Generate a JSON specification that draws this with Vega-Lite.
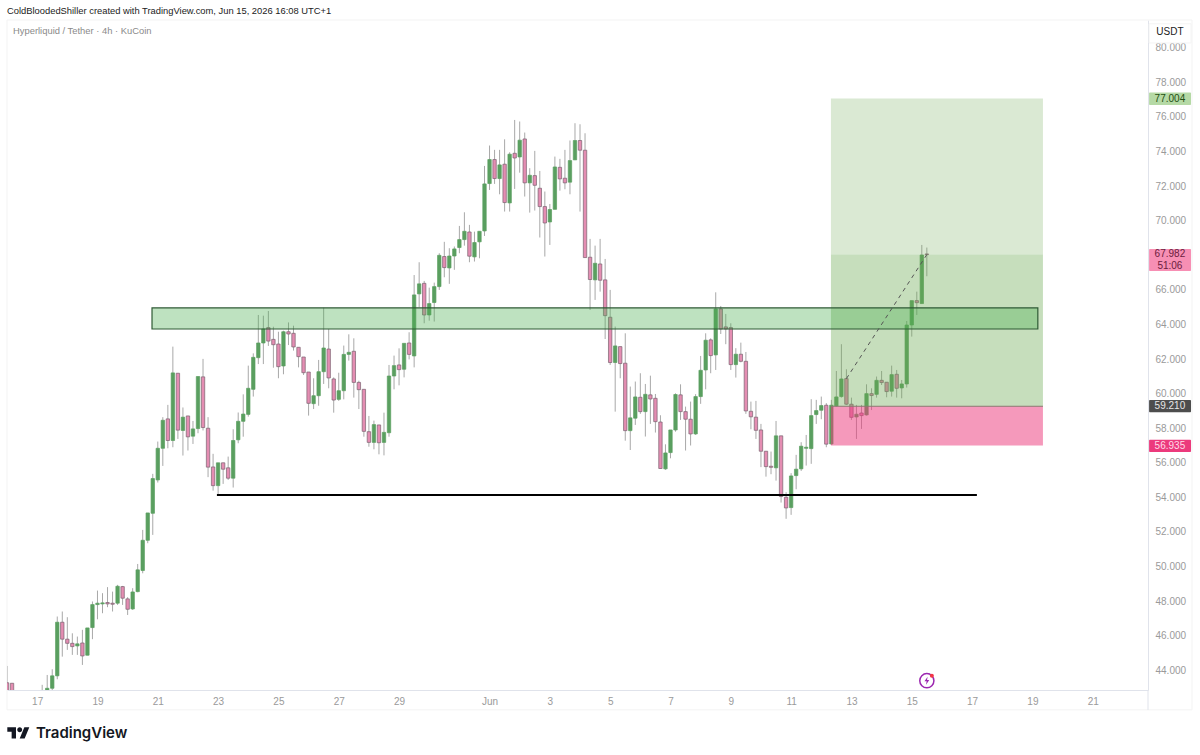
{
  "$schema": "https://vega.github.io/schema/vega-lite/v6.json",
  "width": 1141,
  "height": 670,
  "autosize": "none",
  "padding": {"left": 7, "top": 20, "right": 52, "bottom": 65},
  "background": "#ffffff",
  "config": {"view": {"stroke": null}, "font": "Liberation Sans"},
  "datasets": {
    "candles": [
      {"t":"2026-05-16T00:00Z","o":43.22,"h":44.19,"l":42.4,"c":42.6},
      {"t":"2026-05-16T04:00Z","o":43.19,"h":43.19,"l":42.4,"c":42.6},
      {"t":"2026-05-17T04:00Z","o":42.6,"h":43.1,"l":42.5,"c":42.7},
      {"t":"2026-05-17T08:00Z","o":42.6,"h":43.67,"l":42.4,"c":42.9},
      {"t":"2026-05-17T12:00Z","o":42.9,"h":44.0,"l":42.8,"c":43.62},
      {"t":"2026-05-17T16:00Z","o":43.62,"h":47.05,"l":43.42,"c":46.72},
      {"t":"2026-05-17T20:00Z","o":46.72,"h":47.34,"l":44.73,"c":45.74},
      {"t":"2026-05-18T00:00Z","o":45.74,"h":47.01,"l":45.12,"c":45.5},
      {"t":"2026-05-18T04:00Z","o":45.5,"h":46.08,"l":44.83,"c":45.31},
      {"t":"2026-05-18T08:00Z","o":45.35,"h":45.89,"l":44.83,"c":45.47},
      {"t":"2026-05-18T12:00Z","o":45.52,"h":46.28,"l":44.25,"c":44.77},
      {"t":"2026-05-18T16:00Z","o":44.81,"h":46.39,"l":44.81,"c":46.39},
      {"t":"2026-05-18T20:00Z","o":46.41,"h":47.92,"l":45.74,"c":47.74},
      {"t":"2026-05-19T00:00Z","o":47.74,"h":48.55,"l":46.89,"c":47.82},
      {"t":"2026-05-19T04:00Z","o":47.78,"h":48.4,"l":47.24,"c":47.84},
      {"t":"2026-05-19T08:00Z","o":47.86,"h":48.75,"l":47.59,"c":47.78},
      {"t":"2026-05-19T12:00Z","o":47.82,"h":48.49,"l":47.34,"c":47.76},
      {"t":"2026-05-19T16:00Z","o":47.82,"h":48.88,"l":47.72,"c":48.8},
      {"t":"2026-05-19T20:00Z","o":48.78,"h":48.82,"l":47.72,"c":48.11},
      {"t":"2026-05-20T00:00Z","o":48.07,"h":48.17,"l":47.14,"c":47.47},
      {"t":"2026-05-20T04:00Z","o":47.49,"h":48.69,"l":47.43,"c":48.47},
      {"t":"2026-05-20T08:00Z","o":48.49,"h":50.09,"l":48.45,"c":49.75},
      {"t":"2026-05-20T12:00Z","o":49.71,"h":52.06,"l":49.55,"c":51.46},
      {"t":"2026-05-20T16:00Z","o":51.46,"h":53.04,"l":51.29,"c":53.04},
      {"t":"2026-05-20T20:00Z","o":53.02,"h":55.3,"l":51.77,"c":55.03},
      {"t":"2026-05-21T00:00Z","o":54.95,"h":57.17,"l":54.8,"c":56.78},
      {"t":"2026-05-21T04:00Z","o":56.78,"h":58.58,"l":55.76,"c":58.4},
      {"t":"2026-05-21T08:00Z","o":58.48,"h":59.29,"l":56.78,"c":57.23},
      {"t":"2026-05-21T12:00Z","o":57.23,"h":62.66,"l":56.84,"c":61.14},
      {"t":"2026-05-21T16:00Z","o":61.12,"h":61.12,"l":57.32,"c":57.83},
      {"t":"2026-05-21T20:00Z","o":57.81,"h":59.14,"l":56.36,"c":58.58},
      {"t":"2026-05-22T00:00Z","o":58.65,"h":58.65,"l":56.65,"c":57.44},
      {"t":"2026-05-22T04:00Z","o":57.48,"h":58.36,"l":57.03,"c":57.9},
      {"t":"2026-05-22T08:00Z","o":57.92,"h":60.93,"l":57.65,"c":60.93},
      {"t":"2026-05-22T12:00Z","o":60.91,"h":61.95,"l":57.81,"c":57.98},
      {"t":"2026-05-22T16:00Z","o":57.94,"h":58.58,"l":55.11,"c":55.69},
      {"t":"2026-05-22T20:00Z","o":55.7,"h":56.46,"l":54.33,"c":54.62},
      {"t":"2026-05-23T00:00Z","o":54.62,"h":55.94,"l":54.08,"c":55.94},
      {"t":"2026-05-23T04:00Z","o":55.94,"h":55.94,"l":54.72,"c":55.57},
      {"t":"2026-05-23T08:00Z","o":55.65,"h":56.3,"l":54.95,"c":55.05},
      {"t":"2026-05-23T12:00Z","o":55.05,"h":57.88,"l":54.51,"c":57.23},
      {"t":"2026-05-23T16:00Z","o":57.27,"h":58.85,"l":57.07,"c":58.34},
      {"t":"2026-05-23T20:00Z","o":58.34,"h":59.9,"l":57.45,"c":58.76},
      {"t":"2026-05-24T00:00Z","o":58.74,"h":61.56,"l":58.61,"c":60.25},
      {"t":"2026-05-24T04:00Z","o":60.19,"h":62.27,"l":59.77,"c":62.04},
      {"t":"2026-05-24T08:00Z","o":62.02,"h":64.49,"l":61.65,"c":62.87},
      {"t":"2026-05-24T12:00Z","o":62.87,"h":64.45,"l":61.65,"c":63.68},
      {"t":"2026-05-24T16:00Z","o":63.76,"h":64.72,"l":62.7,"c":62.98},
      {"t":"2026-05-24T20:00Z","o":63.08,"h":63.81,"l":61.44,"c":62.77},
      {"t":"2026-05-25T00:00Z","o":62.81,"h":63.52,"l":60.83,"c":61.5},
      {"t":"2026-05-25T04:00Z","o":61.54,"h":63.58,"l":61.06,"c":63.52},
      {"t":"2026-05-25T08:00Z","o":63.52,"h":64.06,"l":62.75,"c":63.39},
      {"t":"2026-05-25T12:00Z","o":63.43,"h":63.87,"l":62.43,"c":62.64},
      {"t":"2026-05-25T16:00Z","o":62.62,"h":62.62,"l":61.46,"c":62.08},
      {"t":"2026-05-25T20:00Z","o":62.06,"h":62.06,"l":61.02,"c":61.15},
      {"t":"2026-05-26T00:00Z","o":61.19,"h":61.19,"l":58.67,"c":59.38},
      {"t":"2026-05-26T04:00Z","o":59.36,"h":60.83,"l":59.05,"c":59.82},
      {"t":"2026-05-26T08:00Z","o":59.82,"h":61.89,"l":59.24,"c":61.21},
      {"t":"2026-05-26T12:00Z","o":61.21,"h":64.91,"l":60.5,"c":62.58},
      {"t":"2026-05-26T16:00Z","o":62.52,"h":63.68,"l":60.25,"c":60.85},
      {"t":"2026-05-26T20:00Z","o":60.79,"h":60.88,"l":58.84,"c":59.57},
      {"t":"2026-05-27T00:00Z","o":59.61,"h":61.15,"l":59.52,"c":60.11},
      {"t":"2026-05-27T04:00Z","o":60.11,"h":62.72,"l":59.61,"c":62.21},
      {"t":"2026-05-27T08:00Z","o":62.21,"h":63.37,"l":61.85,"c":62.33},
      {"t":"2026-05-27T12:00Z","o":62.39,"h":63.14,"l":59.71,"c":60.59},
      {"t":"2026-05-27T16:00Z","o":60.59,"h":60.69,"l":59.05,"c":60.17},
      {"t":"2026-05-27T20:00Z","o":60.19,"h":60.19,"l":57.45,"c":57.76},
      {"t":"2026-05-28T00:00Z","o":57.74,"h":58.65,"l":56.87,"c":57.12},
      {"t":"2026-05-28T04:00Z","o":57.12,"h":58.38,"l":56.72,"c":58.15},
      {"t":"2026-05-28T08:00Z","o":58.13,"h":58.13,"l":56.43,"c":57.1},
      {"t":"2026-05-28T12:00Z","o":57.12,"h":58.84,"l":56.37,"c":57.7},
      {"t":"2026-05-28T16:00Z","o":57.68,"h":61.6,"l":57.45,"c":60.96},
      {"t":"2026-05-28T20:00Z","o":60.96,"h":62.14,"l":60.19,"c":61.56},
      {"t":"2026-05-29T00:00Z","o":61.6,"h":62.56,"l":60.42,"c":61.33},
      {"t":"2026-05-29T04:00Z","o":61.35,"h":62.85,"l":60.88,"c":62.85},
      {"t":"2026-05-29T08:00Z","o":62.87,"h":63.49,"l":61.92,"c":62.21},
      {"t":"2026-05-29T12:00Z","o":62.12,"h":66.8,"l":61.46,"c":65.65},
      {"t":"2026-05-29T16:00Z","o":65.71,"h":67.54,"l":64.94,"c":66.29},
      {"t":"2026-05-29T20:00Z","o":66.32,"h":66.46,"l":64.01,"c":64.49},
      {"t":"2026-05-30T00:00Z","o":64.49,"h":66.07,"l":64.16,"c":65.15},
      {"t":"2026-05-30T04:00Z","o":65.21,"h":66.36,"l":64.11,"c":66.13},
      {"t":"2026-05-30T08:00Z","o":66.13,"h":68.06,"l":65.94,"c":67.94},
      {"t":"2026-05-30T12:00Z","o":67.87,"h":68.72,"l":66.67,"c":67.23},
      {"t":"2026-05-30T16:00Z","o":67.21,"h":68.35,"l":66.29,"c":67.9},
      {"t":"2026-05-30T20:00Z","o":67.9,"h":68.45,"l":67.1,"c":68.31},
      {"t":"2026-05-31T00:00Z","o":68.39,"h":69.64,"l":68.06,"c":68.85},
      {"t":"2026-05-31T04:00Z","o":68.85,"h":70.43,"l":68.5,"c":69.33},
      {"t":"2026-05-31T08:00Z","o":69.29,"h":69.7,"l":67.54,"c":67.89},
      {"t":"2026-05-31T12:00Z","o":67.85,"h":69.31,"l":67.58,"c":68.68},
      {"t":"2026-05-31T16:00Z","o":68.72,"h":69.33,"l":67.77,"c":69.33},
      {"t":"2026-05-31T20:00Z","o":69.35,"h":73.11,"l":69.06,"c":72.07},
      {"t":"2026-06-01T00:00Z","o":72.09,"h":74.29,"l":71.72,"c":73.48},
      {"t":"2026-06-01T04:00Z","o":73.48,"h":74.04,"l":72.07,"c":72.38},
      {"t":"2026-06-01T08:00Z","o":72.38,"h":74.04,"l":71.47,"c":73.17},
      {"t":"2026-06-01T12:00Z","o":73.21,"h":74.65,"l":70.47,"c":70.99},
      {"t":"2026-06-01T16:00Z","o":70.97,"h":73.9,"l":70.47,"c":73.79},
      {"t":"2026-06-01T20:00Z","o":73.84,"h":75.77,"l":71.78,"c":73.57},
      {"t":"2026-06-02T00:00Z","o":73.63,"h":75.68,"l":72.72,"c":74.6},
      {"t":"2026-06-02T04:00Z","o":74.67,"h":75.04,"l":71.34,"c":72.13},
      {"t":"2026-06-02T08:00Z","o":72.13,"h":72.98,"l":70.41,"c":72.57},
      {"t":"2026-06-02T12:00Z","o":72.55,"h":73.98,"l":70.53,"c":71.99},
      {"t":"2026-06-02T16:00Z","o":71.82,"h":72.82,"l":68.97,"c":70.76},
      {"t":"2026-06-02T20:00Z","o":70.76,"h":71.63,"l":67.87,"c":69.81},
      {"t":"2026-06-03T00:00Z","o":69.87,"h":70.91,"l":68.54,"c":70.59},
      {"t":"2026-06-03T04:00Z","o":70.6,"h":73.65,"l":70.6,"c":73.05},
      {"t":"2026-06-03T08:00Z","o":73.03,"h":73.52,"l":71.68,"c":72.36},
      {"t":"2026-06-03T12:00Z","o":72.4,"h":74.04,"l":71.76,"c":72.13},
      {"t":"2026-06-03T16:00Z","o":72.17,"h":74.58,"l":71.47,"c":73.42},
      {"t":"2026-06-03T20:00Z","o":73.46,"h":75.58,"l":73.46,"c":74.58},
      {"t":"2026-06-04T00:00Z","o":74.58,"h":75.52,"l":70.47,"c":74.02},
      {"t":"2026-06-04T04:00Z","o":74.02,"h":75.0,"l":67.81,"c":67.81},
      {"t":"2026-06-04T08:00Z","o":67.83,"h":68.89,"l":64.78,"c":66.54},
      {"t":"2026-06-04T12:00Z","o":66.52,"h":68.5,"l":65.36,"c":67.48},
      {"t":"2026-06-04T16:00Z","o":67.44,"h":68.89,"l":65.84,"c":66.5},
      {"t":"2026-06-04T20:00Z","o":66.52,"h":67.73,"l":63.1,"c":64.45},
      {"t":"2026-06-05T00:00Z","o":64.36,"h":65.94,"l":61.6,"c":61.74},
      {"t":"2026-06-05T04:00Z","o":61.74,"h":63.82,"l":58.9,"c":62.7},
      {"t":"2026-06-05T08:00Z","o":62.66,"h":62.66,"l":60.83,"c":61.68},
      {"t":"2026-06-05T12:00Z","o":61.7,"h":63.43,"l":57.22,"c":57.8},
      {"t":"2026-06-05T16:00Z","o":57.8,"h":60.35,"l":56.68,"c":58.54},
      {"t":"2026-06-05T20:00Z","o":58.52,"h":60.64,"l":58.13,"c":59.75},
      {"t":"2026-06-06T00:00Z","o":59.73,"h":61.12,"l":58.77,"c":58.9},
      {"t":"2026-06-06T04:00Z","o":58.9,"h":60.5,"l":57.46,"c":59.9},
      {"t":"2026-06-06T08:00Z","o":59.87,"h":60.98,"l":58.19,"c":59.63},
      {"t":"2026-06-06T12:00Z","o":59.67,"h":59.92,"l":57.69,"c":58.32},
      {"t":"2026-06-06T16:00Z","o":58.3,"h":58.69,"l":55.61,"c":55.61},
      {"t":"2026-06-06T20:00Z","o":55.59,"h":57.01,"l":55.53,"c":56.51},
      {"t":"2026-06-07T00:00Z","o":56.53,"h":57.84,"l":56.2,"c":57.84},
      {"t":"2026-06-07T04:00Z","o":57.84,"h":59.96,"l":57.74,"c":59.89},
      {"t":"2026-06-07T08:00Z","o":59.87,"h":60.48,"l":58.42,"c":58.9},
      {"t":"2026-06-07T12:00Z","o":58.9,"h":59.19,"l":56.65,"c":58.46},
      {"t":"2026-06-07T16:00Z","o":58.46,"h":59.48,"l":56.94,"c":57.61},
      {"t":"2026-06-07T20:00Z","o":57.61,"h":59.91,"l":57.55,"c":59.77},
      {"t":"2026-06-08T00:00Z","o":59.77,"h":62.12,"l":59.35,"c":61.29},
      {"t":"2026-06-08T04:00Z","o":61.31,"h":63.43,"l":60.19,"c":63.03},
      {"t":"2026-06-08T08:00Z","o":63.05,"h":63.14,"l":61.12,"c":62.14},
      {"t":"2026-06-08T12:00Z","o":62.18,"h":65.8,"l":61.31,"c":64.84},
      {"t":"2026-06-08T16:00Z","o":64.84,"h":65.01,"l":63.39,"c":63.68},
      {"t":"2026-06-08T20:00Z","o":63.8,"h":64.55,"l":62.8,"c":63.68},
      {"t":"2026-06-09T00:00Z","o":63.76,"h":64.01,"l":61.31,"c":61.62},
      {"t":"2026-06-09T04:00Z","o":61.62,"h":62.57,"l":60.87,"c":62.22},
      {"t":"2026-06-09T08:00Z","o":62.22,"h":62.89,"l":61.75,"c":61.81},
      {"t":"2026-06-09T12:00Z","o":61.81,"h":62.35,"l":58.77,"c":58.94},
      {"t":"2026-06-09T16:00Z","o":58.92,"h":59.48,"l":57.88,"c":58.6},
      {"t":"2026-06-09T20:00Z","o":58.58,"h":59.52,"l":57.32,"c":57.82},
      {"t":"2026-06-10T00:00Z","o":57.84,"h":58.19,"l":55.69,"c":56.61},
      {"t":"2026-06-10T04:00Z","o":56.61,"h":56.61,"l":55.14,"c":55.72},
      {"t":"2026-06-10T08:00Z","o":55.74,"h":56.59,"l":55.28,"c":55.68},
      {"t":"2026-06-10T12:00Z","o":55.65,"h":58.36,"l":54.91,"c":57.5},
      {"t":"2026-06-10T16:00Z","o":57.5,"h":57.5,"l":53.64,"c":53.99},
      {"t":"2026-06-10T20:00Z","o":53.95,"h":54.24,"l":52.7,"c":53.33},
      {"t":"2026-06-11T00:00Z","o":53.35,"h":55.34,"l":52.93,"c":55.18},
      {"t":"2026-06-11T04:00Z","o":55.2,"h":56.4,"l":54.41,"c":55.57},
      {"t":"2026-06-11T08:00Z","o":55.59,"h":57.13,"l":55.47,"c":56.9},
      {"t":"2026-06-11T12:00Z","o":56.78,"h":57.55,"l":55.78,"c":56.84},
      {"t":"2026-06-11T16:00Z","o":56.76,"h":59.62,"l":55.88,"c":58.67},
      {"t":"2026-06-11T20:00Z","o":58.73,"h":59.58,"l":58.19,"c":58.96},
      {"t":"2026-06-12T00:00Z","o":58.98,"h":59.77,"l":58.46,"c":59.25},
      {"t":"2026-06-12T04:00Z","o":59.27,"h":59.39,"l":56.84,"c":57.02},
      {"t":"2026-06-12T08:00Z","o":57.03,"h":59.58,"l":56.98,"c":59.27},
      {"t":"2026-06-12T12:00Z","o":59.23,"h":61.25,"l":59.19,"c":59.75},
      {"t":"2026-06-12T16:00Z","o":59.77,"h":62.8,"l":59.71,"c":60.79},
      {"t":"2026-06-12T20:00Z","o":60.81,"h":61.35,"l":59.29,"c":59.33},
      {"t":"2026-06-13T00:00Z","o":59.33,"h":59.71,"l":58.42,"c":58.57},
      {"t":"2026-06-13T04:00Z","o":58.59,"h":59.29,"l":57.32,"c":58.75},
      {"t":"2026-06-13T08:00Z","o":58.82,"h":59.29,"l":57.9,"c":58.67},
      {"t":"2026-06-13T12:00Z","o":58.71,"h":60.48,"l":58.67,"c":59.94},
      {"t":"2026-06-13T16:00Z","o":59.94,"h":60.25,"l":58.99,"c":59.83},
      {"t":"2026-06-13T20:00Z","o":59.9,"h":60.93,"l":59.71,"c":60.71},
      {"t":"2026-06-14T00:00Z","o":60.71,"h":61.25,"l":60.44,"c":60.58},
      {"t":"2026-06-14T04:00Z","o":60.6,"h":60.6,"l":59.73,"c":60.06},
      {"t":"2026-06-14T08:00Z","o":60.08,"h":61.56,"l":59.77,"c":61.04},
      {"t":"2026-06-14T12:00Z","o":61.06,"h":61.31,"l":59.71,"c":60.25},
      {"t":"2026-06-14T16:00Z","o":60.27,"h":60.73,"l":59.67,"c":60.5},
      {"t":"2026-06-14T20:00Z","o":60.5,"h":64.14,"l":60.29,"c":63.91},
      {"t":"2026-06-15T00:00Z","o":63.91,"h":65.32,"l":63.24,"c":65.32},
      {"t":"2026-06-15T04:00Z","o":65.32,"h":65.84,"l":64.49,"c":65.2},
      {"t":"2026-06-15T08:00Z","o":65.15,"h":68.54,"l":65.15,"c":67.96},
      {"t":"2026-06-15T12:00Z","o":68.02,"h":68.39,"l":66.73,"c":67.982}
    ]
  },
  "encoding": {
    "x": {
      "field": "t",
      "type": "temporal",
      "scale": {
        "type": "utc",
        "padding": 0,
        "domain": [
          {"year": 2026, "month": 5, "date": 16, "utc": true},
          {"year": 2026, "month": 6, "date": 22, "hours": 20, "utc": true}
        ]
      },
      "axis": {
        "title": null,
        "grid": false,
        "ticks": false,
        "domainColor": "#e0e3eb",
        "labelColor": "#9a9a9a",
        "labelFont": "Liberation Sans",
        "labelFontSize": 10,
        "labelPadding": 6,
        "labelFlush": false,
        "labelOverlap": false,
        "values": [
          {"year": 2026, "month": 5, "date": 17, "utc": true},
          {"year": 2026, "month": 5, "date": 19, "utc": true},
          {"year": 2026, "month": 5, "date": 21, "utc": true},
          {"year": 2026, "month": 5, "date": 23, "utc": true},
          {"year": 2026, "month": 5, "date": 25, "utc": true},
          {"year": 2026, "month": 5, "date": 27, "utc": true},
          {"year": 2026, "month": 5, "date": 29, "utc": true},
          {"year": 2026, "month": 6, "date": 1, "utc": true},
          {"year": 2026, "month": 6, "date": 3, "utc": true},
          {"year": 2026, "month": 6, "date": 5, "utc": true},
          {"year": 2026, "month": 6, "date": 7, "utc": true},
          {"year": 2026, "month": 6, "date": 9, "utc": true},
          {"year": 2026, "month": 6, "date": 11, "utc": true},
          {"year": 2026, "month": 6, "date": 13, "utc": true},
          {"year": 2026, "month": 6, "date": 15, "utc": true},
          {"year": 2026, "month": 6, "date": 17, "utc": true},
          {"year": 2026, "month": 6, "date": 19, "utc": true},
          {"year": 2026, "month": 6, "date": 21, "utc": true}
        ],
        "labelExpr": "utcdate(datum.value) == 1 ? 'Jun' : '' + utcdate(datum.value)"
      }
    },
    "y": {
      "field": "lo",
      "type": "quantitative",
      "scale": {"domain": [42.8, 81.55], "nice": false, "zero": false},
      "axis": {
        "title": null,
        "orient": "right",
        "grid": false,
        "ticks": false,
        "domainColor": "#e0e3eb",
        "labelColor": "#9a9a9a",
        "labelFont": "Liberation Sans",
        "labelFontSize": 10,
        "labelPadding": 7,
        "labelOffset": 1,
        "labelFlush": false,
        "labelOverlap": false,
        "format": ".3f",
        "values": [44, 46, 48, 50, 52, 54, 56, 58, 60, 62, 64, 66, 68, 70, 72, 74, 76, 78, 80]
      }
    }
  },
  "layer": [
    {
      "data": {
        "values": [
          {"t": "2026-05-16T00:00Z", "t2": "2026-06-24T07:00Z", "lo": 41.65, "hi": 81.55}
        ],
        "format": {"parse": {"t": "date", "t2": "date"}}
      },
      "mark": {"type": "rect", "fill": null, "stroke": "#f3f3f3", "strokeWidth": 1},
      "encoding": {"x2": {"field": "t2"}, "y2": {"field": "hi"}}
    },
    {
      "data": {
        "values": [
          {"t": "2026-06-22T20:00Z", "lo": 41.65, "hi": 42.8}
        ],
        "format": {"parse": {"t": "date"}}
      },
      "mark": {"type": "rule", "stroke": "#e0e3eb", "strokeWidth": 1},
      "encoding": {"y2": {"field": "hi"}}
    },
    {
      "data": {"name": "candles"},
      "mark": {"type": "rule", "stroke": "#a8a8a8", "strokeWidth": 1, "clip": true},
      "encoding": {
        "y": {"field": "l"},
        "y2": {"field": "h"}
      }
    },
    {
      "data": {"name": "candles"},
      "mark": {"type": "bar", "width": 3.4, "strokeWidth": 0.7, "clip": true},
      "encoding": {
        "y": {"field": "o"},
        "y2": {"field": "c"},
        "color": {
          "condition": {"test": "datum.c >= datum.o", "value": "#5a9f60"},
          "value": "#e48db2"
        },
        "stroke": {
          "condition": {"test": "datum.c >= datum.o", "value": "#5a9f60"},
          "value": "#7a6270"
        }
      }
    },
    {
      "data": {
        "values": [
          {"part": "target", "t": "2026-06-12T07:41Z", "t2": "2026-06-19T08:24Z", "lo": 67.982, "hi": 77.004},
          {"part": "profit", "t": "2026-06-12T07:41Z", "t2": "2026-06-19T08:24Z", "lo": 59.21, "hi": 67.982},
          {"part": "stop", "t": "2026-06-12T07:41Z", "t2": "2026-06-19T08:24Z", "lo": 56.935, "hi": 59.21}
        ],
        "format": {"parse": {"t": "date", "t2": "date"}}
      },
      "mark": {"type": "rect"},
      "encoding": {
        "x2": {"field": "t2"},
        "y2": {"field": "hi"},
        "color": {
          "condition": {"test": "datum.part == 'stop'", "value": "#ec3b7d"},
          "value": "#6aa84f"
        },
        "opacity": {
          "condition": [
            {"test": "datum.part == 'stop'", "value": 0.52},
            {"test": "datum.part == 'profit'", "value": 0.38}
          ],
          "value": 0.25
        }
      }
    },
    {
      "data": {
        "values": [
          {"t": "2026-06-12T07:41Z", "t2": "2026-06-19T08:24Z", "lo": 59.21}
        ],
        "format": {"parse": {"t": "date", "t2": "date"}}
      },
      "mark": {"type": "rule", "stroke": "#8a7a70", "strokeWidth": 1},
      "encoding": {"x2": {"field": "t2"}}
    },
    {
      "data": {
        "values": [
          {"t": "2026-05-20T19:24Z", "t2": "2026-06-19T04:20Z", "lo": 63.68, "hi": 64.9}
        ],
        "format": {"parse": {"t": "date", "t2": "date"}}
      },
      "mark": {"type": "rect", "fill": "#4caf50", "fillOpacity": 0.36, "stroke": "#2e5a34", "strokeWidth": 1.2},
      "encoding": {"x2": {"field": "t2"}, "y2": {"field": "hi"}}
    },
    {
      "data": {
        "values": [
          {"t": "2026-05-22T23:03Z", "t2": "2026-06-17T03:50Z", "lo": 54.08}
        ],
        "format": {"parse": {"t": "date", "t2": "date"}}
      },
      "mark": {"type": "rule", "stroke": "#000000", "strokeWidth": 2},
      "encoding": {"x2": {"field": "t2"}}
    },
    {
      "data": {
        "values": [
          {"t": "2026-06-12T20:00Z", "lo": 60.81},
          {"t": "2026-06-15T12:00Z", "lo": 67.982}
        ],
        "format": {"parse": {"t": "date"}}
      },
      "mark": {"type": "line", "stroke": "#555555", "strokeWidth": 1, "strokeDash": [4, 4]}
    },
    {
      "data": {
        "values": [
          {"t": "2026-06-22T20:52Z", "t2": "2026-06-24T06:14Z", "lo": 80.22, "hi": 81.33}
        ],
        "format": {"parse": {"t": "date", "t2": "date"}}
      },
      "mark": {"type": "rect", "fill": "#ffffff", "stroke": "#f4f4f4", "strokeWidth": 1},
      "encoding": {"x2": {"field": "t2"}, "y2": {"field": "hi"}}
    },
    {
      "data": {
        "values": [
          {"label": "77.004", "t": "2026-06-22T20:52Z", "t2": "2026-06-24T06:14Z", "lo": 76.64, "hi": 77.36},
          {"label": "67.982", "t": "2026-06-22T20:52Z", "t2": "2026-06-24T06:14Z", "lo": 67.04, "hi": 68.31},
          {"label": "59.210", "t": "2026-06-22T20:52Z", "t2": "2026-06-24T06:14Z", "lo": 58.86, "hi": 59.57},
          {"label": "56.935", "t": "2026-06-22T20:52Z", "t2": "2026-06-24T06:14Z", "lo": 56.57, "hi": 57.28}
        ],
        "format": {"parse": {"t": "date", "t2": "date"}}
      },
      "mark": {"type": "rect", "cornerRadius": 1},
      "encoding": {
        "x2": {"field": "t2"},
        "y2": {"field": "hi"},
        "color": {
          "condition": [
            {"test": "datum.label == '77.004'", "value": "#b5d9a5"},
            {"test": "datum.label == '67.982'", "value": "#f78fb4"},
            {"test": "datum.label == '59.210'", "value": "#4d4d4d"}
          ],
          "value": "#ec3a7c"
        }
      }
    },
    {
      "data": {
        "values": [
          {"label": "USDT", "t": "2026-06-23T13:26Z", "lo": 80.86},
          {"label": "77.004", "t": "2026-06-23T13:26Z", "lo": 77.0},
          {"label": "67.982", "t": "2026-06-23T13:26Z", "lo": 68.04},
          {"label": "51:06", "t": "2026-06-23T13:26Z", "lo": 67.34},
          {"label": "59.210", "t": "2026-06-23T13:26Z", "lo": 59.21},
          {"label": "56.935", "t": "2026-06-23T13:26Z", "lo": 56.93}
        ],
        "format": {"parse": {"t": "date"}}
      },
      "mark": {"type": "text", "font": "Liberation Sans", "fontSize": 10, "align": "center", "baseline": "middle"},
      "encoding": {
        "text": {"field": "label"},
        "color": {
          "condition": [
            {"test": "datum.label == 'USDT'", "value": "#222222"},
            {"test": "datum.label == '77.004'", "value": "#1f4f12"},
            {"test": "datum.label == '67.982' || datum.label == '51:06'", "value": "#6b1c3e"},
            {"test": "datum.label == '59.210'", "value": "#e6e6e6"}
          ],
          "value": "#ffdbe8"
        }
      }
    },
    {
      "data": {
        "values": [
          {"label": "ColdBloodedShiller created with TradingView.com, Jun 15, 2026 16:08 UTC+1", "t": "2026-05-16T00:00Z", "lo": 82.08}
        ],
        "format": {"parse": {"t": "date"}}
      },
      "mark": {"type": "text", "font": "Liberation Sans", "fontSize": 9.37, "align": "left", "baseline": "middle", "color": "#222222"},
      "encoding": {"text": {"field": "label"}}
    },
    {
      "data": {
        "values": [
          {"label": "Hyperliquid / Tether · 4h · KuCoin", "t": "2026-05-16T04:48Z", "lo": 80.92}
        ],
        "format": {"parse": {"t": "date"}}
      },
      "mark": {"type": "text", "font": "Liberation Sans", "fontSize": 9.4, "align": "left", "baseline": "middle", "color": "#8a8a8a"},
      "encoding": {"text": {"field": "label"}}
    },
    {
      "data": {
        "values": [
          {"label": "TradingView", "t": "2026-05-16T23:00Z", "lo": 40.32}
        ],
        "format": {"parse": {"t": "date"}}
      },
      "mark": {"type": "text", "font": "Inter", "fontSize": 15, "fontWeight": 600, "align": "left", "baseline": "middle", "color": "#131722"},
      "encoding": {"text": {"field": "label"}}
    },
    {
      "data": {
        "values": [{"t": "2026-05-16T09:00Z", "lo": 40.32}],
        "format": {"parse": {"t": "date"}}
      },
      "mark": {
        "type": "point",
        "shape": "M-0.211 0.507H-0.606V-0.113H-1V-0.507H-0.211ZM0.577 0.507H0.127L0.549 -0.507H1ZM-0.098 -0.282a0.225 0.225 0 1 0 0.45 0a0.225 0.225 0 1 0 -0.45 0Z",
        "filled": true,
        "fill": "#131722",
        "opacity": 1,
        "strokeWidth": 0,
        "size": 484
      }
    },
    {
      "data": {
        "values": [{"t": "2026-06-15T12:00Z", "lo": 43.34}],
        "format": {"parse": {"t": "date"}}
      },
      "mark": {"type": "point", "shape": "circle", "filled": false, "stroke": "#9c27b0", "opacity": 1, "strokeWidth": 1.5, "size": 200}
    },
    {
      "data": {
        "values": [{"t": "2026-06-15T12:00Z", "lo": 43.34}],
        "format": {"parse": {"t": "date"}}
      },
      "mark": {
        "type": "point",
        "shape": "M0.2 -1L-0.6 0.15L-0.05 0.15L-0.2 1L0.6 -0.15L0.05 -0.15Z",
        "filled": true,
        "fill": "#9c27b0",
        "opacity": 1,
        "strokeWidth": 0,
        "size": 64
      }
    },
    {
      "data": {
        "values": [{"t": "2026-06-15T16:00Z", "lo": 43.63}],
        "format": {"parse": {"t": "date"}}
      },
      "mark": {"type": "point", "shape": "circle", "filled": true, "fill": "#f23645", "opacity": 1, "strokeWidth": 0, "size": 16}
    }
  ]
}
